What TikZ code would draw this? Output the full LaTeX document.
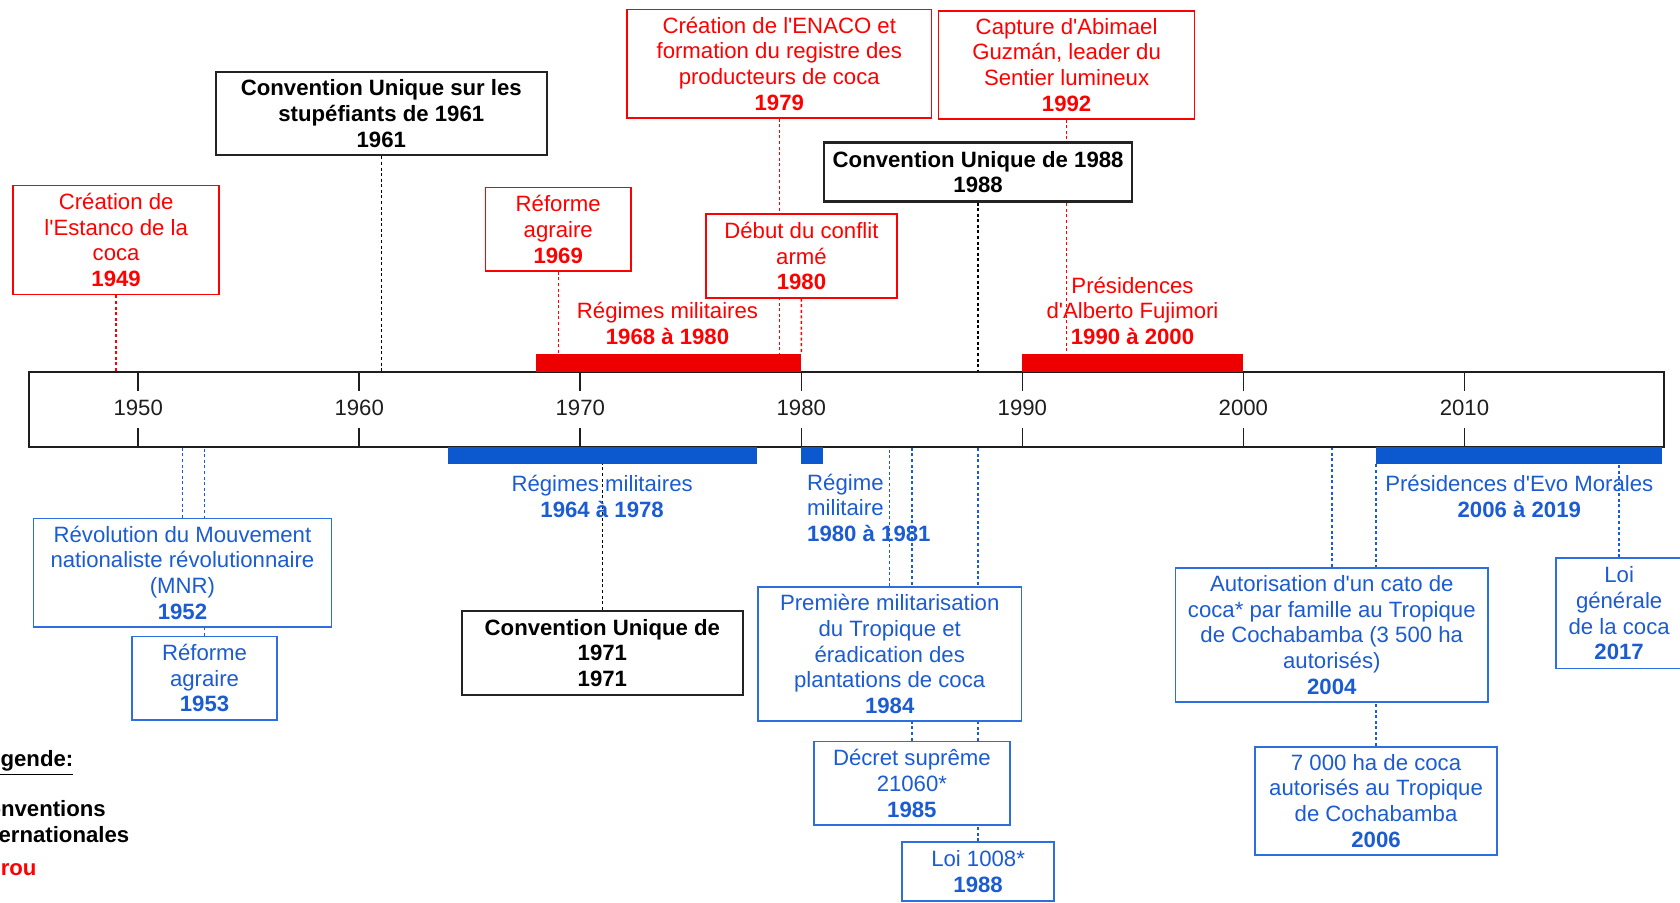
\documentclass[tikz,border=0pt]{standalone}
\usepackage{fontspec}
\setmainfont{Liberation Sans}
\usetikzlibrary{backgrounds}
\definecolor{cred}{RGB}{255,0,0}
\definecolor{cbar}{RGB}{238,0,0}
\definecolor{cblue}{RGB}{28,92,210}
\definecolor{cbluebox}{RGB}{45,110,225}
\definecolor{cbluebar}{RGB}{12,88,206}
\definecolor{cblk}{RGB}{35,35,35}
\definecolor{caxis}{RGB}{30,30,30}
\newcommand\myfs{\fontsize{10.35}{12}\selectfont}
\newcommand\aq{\textquotesingle}
\begin{document}
\begin{tikzpicture}[x=0.5pt,y=-0.5pt,font=\myfs,
  box/.style={draw,fill=white,align=center,inner sep=1pt,line width=0.75pt},
  redbox/.style={box,draw=cred,text=cred},
  blkbox/.style={box,draw=cblk,text=black,line width=1pt,font=\myfs\bfseries},
  bluebox/.style={box,draw=cbluebox,text=cblue},
  conn/.style={line width=0.65pt,dash pattern=on 1.4pt off 1.2pt},
  rconn/.style={conn,draw=cred},
  kconn/.style={conn,draw=black},
  bconn/.style={conn,draw=cblue},
  axtick/.style={draw=caxis,line width=0.75pt},
  redlbl/.style={text=cred,align=center,inner sep=0pt},
  bluelbl/.style={text=cblue,align=center,inner sep=0pt},
]
\useasboundingbox (0,0) rectangle (1568,842);
\clip (0,0) rectangle (1568,842);

% timeline
\node[draw=caxis,line width=0.8pt,fill=white,minimum width=763pt,minimum height=35pt,inner sep=0pt] (axis) at (790,382) {};
\foreach \i in {0,...,6}{
  \pgfmathsetmacro\xx{129+206.3*\i}
  \pgfmathtruncatemacro\yy{1950+10*\i}
  \draw[axtick] (\xx,347) -- (\xx,365) (\xx,399) -- (\xx,417);
  \node[text=caxis,inner sep=0pt] (yr\yy) at (\xx,381) {\yy};
}

% anchor coordinates on the axis / bars
\coordinate (a1949) at (108.4,347);
\coordinate (a1961) at (355.9,347);
\coordinate (a1969) at (521.0,330);
\coordinate (a1979) at (727.3,330);
\coordinate (a1980) at (747.9,330);
\coordinate (a1988t) at (912.9,347);
\coordinate (a1992) at (995.5,330);
\coordinate (a1952) at (170.3,417);
\coordinate (a1953) at (190.9,417);
\coordinate (a1971) at (562.2,417);
\coordinate (a1984) at (830.4,417);
\coordinate (a1985) at (851.1,417);
\coordinate (a1988b) at (912.9,417);
\coordinate (a2004) at (1243.0,417);
\coordinate (a2006) at (1284.3,433);
\coordinate (a2017) at (1511.2,433);

% period bars
\fill[cbar] (500.3,330) rectangle (747.9,347);
\fill[cbar] (954.2,330) rectangle (1160.5,347);
\fill[cbluebar] (417.8,417) rectangle (706.6,433);
\fill[cbluebar] (747.9,417) rectangle (768.5,433);
\fill[cbluebar] (1284.3,417) rectangle (1551.5,433);

% period labels
\node[redlbl] (pm1) at (623,302) {Régimes militaires\\\textbf{1968 à 1980}};
\node[redlbl] (pfuji) at (1057,290) {Présidences\\d\aq Alberto Fujimori\\\textbf{1990 à 2000}};
\node[bluelbl] (pm2) at (562,463) {Régimes militaires\\\textbf{1964 à 1978}};
\node[bluelbl,align=left,anchor=west] (pm3) at (753,474) {Régime\\militaire\\\textbf{1980 à 1981}};
\node[bluelbl] (pevo) at (1418,463) {Présidences d\aq Evo Morales\\\textbf{2006 à 2019}};

% red boxes
\node[redbox,minimum width=96pt,minimum height=51pt] (r1949) at (108.4,224) {Création de\\l\aq Estanco de la\\coca\\\textbf{1949}};
\node[redbox,minimum width=68pt,minimum height=39pt] (r1969) at (521,214) {Réforme\\agraire\\\textbf{1969}};
\node[redbox,minimum width=142pt,minimum height=50.5pt] (r1979) at (727.3,59.5) {Création de l\aq ENACO et\\formation du registre des\\producteurs de coca\\\textbf{1979}};
\node[redbox,minimum width=89pt,minimum height=39pt] (r1980) at (748,239) {Début du conflit\\armé\\\textbf{1980}};
\node[redbox,minimum width=119.5pt,minimum height=50.5pt] (r1992) at (995.5,60.5) {Capture d\aq Abimael\\Guzmán, leader du\\Sentier lumineux\\\textbf{1992}};

% black boxes
\node[blkbox,minimum width=154.5pt,minimum height=39pt] (k1961) at (355.9,106) {Convention Unique sur les\\stupéfiants de 1961\\1961};
\node[blkbox,minimum width=144pt,minimum height=27.5pt] (k1988) at (912.9,160.5) {Convention Unique de 1988\\1988};
\node[blkbox,minimum width=131pt,minimum height=39.5pt] (k1971) at (562.2,609.5) {Convention Unique de\\1971\\1971};

% blue boxes
\node[bluebox,minimum width=139pt,minimum height=50.5pt] (b1952) at (170.3,534.5) {Révolution du Mouvement\\nationaliste révolutionnaire\\(MNR)\\\textbf{1952}};
\node[bluebox,minimum width=67.5pt,minimum height=39pt] (b1953) at (190.9,633) {Réforme\\agraire\\\textbf{1953}};
\node[bluebox,minimum width=123pt,minimum height=62.5pt] (b1984) at (830.4,610.5) {Première militarisation\\du Tropique et\\éradication des\\plantations de coca\\\textbf{1984}};
\node[bluebox,minimum width=91.5pt,minimum height=39pt] (b1985) at (851.1,731) {Décret suprême\\21060*\\\textbf{1985}};
\node[bluebox,minimum width=71pt,minimum height=27.5pt] (b1988) at (912.9,813.5) {Loi 1008*\\\textbf{1988}};
\node[bluebox,minimum width=146pt,minimum height=62.5pt] (b2004) at (1243,592.5) {Autorisation d\aq un cato de\\coca* par famille au Tropique\\de Cochabamba (3 500 ha\\autorisés)\\\textbf{2004}};
\node[bluebox,minimum width=113pt,minimum height=50.5pt] (b2006) at (1284.3,747.5) {7 000 ha de coca\\autorisés au Tropique\\de Cochabamba\\\textbf{2006}};
\node[bluebox,minimum width=59pt,minimum height=51.5pt] (b2017) at (1511.2,572.5) {Loi\\générale\\de la coca\\\textbf{2017}};

% legend (cut at the left edge, as in the reference)
\node[anchor=west,inner sep=0pt,font=\myfs\bfseries] (lg) at (-24,712) {\underline{Légende:}};
\node[anchor=west,inner sep=0pt,align=left,font=\myfs\bfseries] (lgconv) at (-27,767) {Conventions\\internationales};
\node[anchor=west,inner sep=0pt,font=\myfs\bfseries,text=cred] (lgper) at (-25,810) {Pérou};

% connectors
\begin{scope}[on background layer]
\draw[rconn] (r1949.south) -- (a1949);
\draw[rconn] (r1969.south) -- (a1969);
\draw[rconn] (r1979.south) -- (a1979);
\draw[rconn] (r1980.south) -- (a1980);
\draw[rconn] (r1992.south) -- (a1992);
\draw[kconn] (k1961.south) -- (a1961);
\draw[kconn] (k1988.south) -- (a1988t);
\draw[kconn] (k1971.north) -- (a1971);
\draw[bconn] (b1952.north) -- (a1952);
\draw[bconn] (b1953.north) -- (a1953);
\draw[bconn] (b1984.north) -- (a1984);
\draw[bconn] (b1985.north) -- (a1985);
\draw[bconn] (b1988.north) -- (a1988b);
\draw[bconn] (b2004.north) -- (a2004);
\draw[bconn] (b2006.north) -- (a2006);
\draw[bconn] (b2017.north) -- (a2017);
\end{scope}
\end{tikzpicture}
\end{document}
